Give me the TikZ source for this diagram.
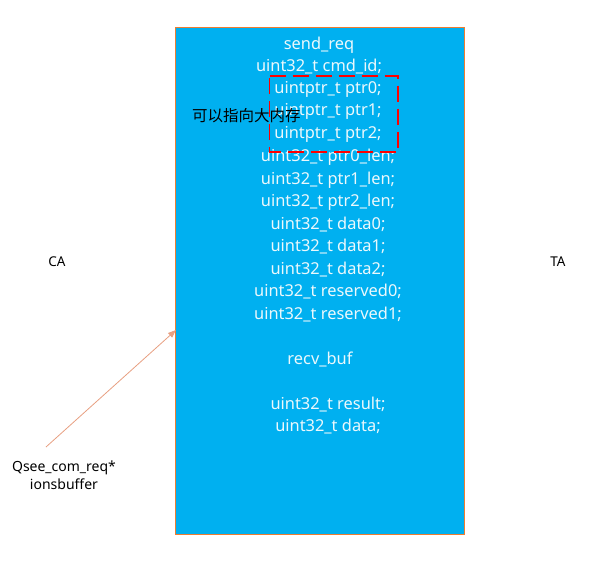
\documentclass[tikz,border=0pt]{standalone}
\usepackage{fontspec}
\setmainfont{Noto Sans}
\newfontfamily\cjk{Noto Sans CJK SC}
\usetikzlibrary{arrows.meta}
\definecolor{boxblue}{RGB}{0,176,240}
\definecolor{boxedge}{RGB}{237,125,49}
\definecolor{arrowc}{RGB}{232,160,130}
\definecolor{txt}{RGB}{235,248,252}
\begin{document}
\begin{tikzpicture}[x=1pt,y=-1pt,
  line/.style={font=\fontsize{16.4}{19}\selectfont, text=txt, inner sep=0pt, anchor=center},
  lbl/.style={font=\fontsize{13.5}{16}\selectfont, text=black, inner sep=0pt},
]
\useasboundingbox (0,0) rectangle (611,573);
\fill[white] (0,0) rectangle (611,573);
\node[draw=boxedge, fill=boxblue, line width=1.2pt, minimum width=289pt, minimum height=507pt, inner sep=0pt, anchor=north west] (box) at (175,27) {};
\foreach \t/\x/\y [count=\i] in {send\_req/319/46, uint32\_t cmd\_id;/319/68, uintptr\_t ptr0;/328/90, uintptr\_t ptr1;/328/112, uintptr\_t ptr2;/328/135, uint32\_t ptr0\_len;/328/158, uint32\_t ptr1\_len;/328/181, uint32\_t ptr2\_len;/328/203, uint32\_t data0;/328/226, uint32\_t data1;/328/248, uint32\_t data2;/328/271, uint32\_t reserved0;/328/293, uint32\_t reserved1;/328/316, recv\_buf/320/361, uint32\_t result;/328/406, uint32\_t data;/328/428}
  \node[line] (l\i) at (\x,\y) {\strut\t};
\draw[red, line width=1.8pt, dash pattern=on 16pt off 7pt] (269.5,76) -- (398,76) -- (398,152) -- (269.5,152) -- cycle;
\node[lbl, anchor=west, font=\cjk\fontsize{15.5}{18}\selectfont] (note) at (192,116) {可以指向大内存};
\node[lbl] (ca) at (57,262) {CA};
\node[lbl] (ta) at (558,262) {TA};
\node[lbl, align=center, font=\fontsize{14}{18}\selectfont] (q) at (64,475) {Qsee\_com\_req*\\ionsbuffer};
\coordinate (qs) at (46,447);
\coordinate (qe) at (176,330);
\draw[arrowc, line width=0.8pt, -{Triangle[length=8pt,width=6pt]}] (qs) -- (qe);
\end{tikzpicture}
\end{document}
